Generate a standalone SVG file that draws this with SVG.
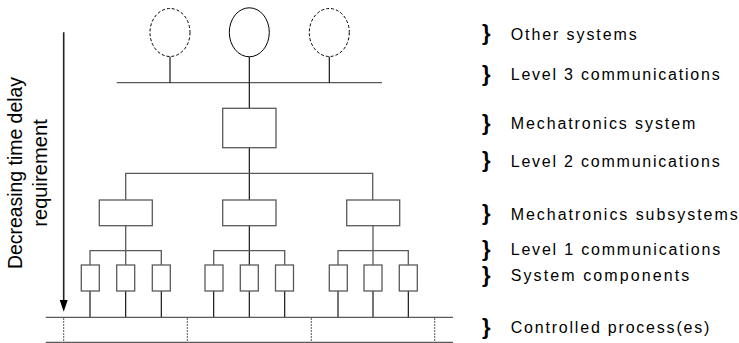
<svg xmlns="http://www.w3.org/2000/svg" width="739" height="343" viewBox="0 0 739 343">
<defs>
<style>
.bg{fill:#fff}
.g{stroke:#5a5a5a;stroke-width:1.3;fill:none}
.k{stroke:#000;stroke-width:1.1;fill:none}
.box{stroke:#5a5a5a;stroke-width:1.3;fill:#fff}
.ell{stroke:#000;stroke-width:1;fill:#fff}
.dash{stroke-dasharray:3,2}
.dot{stroke:#5a5a5a;stroke-width:1;stroke-dasharray:2,1;fill:none}
.lbl{font-family:"Liberation Sans",Arial,Helvetica,sans-serif;font-size:16px;fill:#000}
.br{font-family:"Liberation Sans",Arial,Helvetica,sans-serif;font-size:22px;font-weight:bold;fill:#000}
.side{font-family:"Liberation Sans",Arial,Helvetica,sans-serif;font-size:19.5px;fill:#000;text-anchor:middle}
</style>
</defs>
<rect class="bg" x="0" y="0" width="739" height="343"/>

<g id="connectors">
<line class="g" x1="116.7" y1="82.7" x2="382" y2="82.7"/>
<line class="k" x1="170" y1="56.5" x2="170" y2="82.7"/>
<line class="k" x1="329.3" y1="56.5" x2="329.3" y2="82.7"/>
<line class="k" x1="249.3" y1="56.5" x2="249.3" y2="108.3"/>
<line class="k" x1="249.3" y1="147.7" x2="249.3" y2="200"/>
<polyline class="g" points="125.7,200 125.7,173.3 372.7,173.3 372.7,200"/>
<line class="g" x1="125.7" y1="225.7" x2="125.7" y2="265"/>
<line class="k" x1="249.3" y1="225.7" x2="249.3" y2="265"/>
<line class="g" x1="373" y1="225.7" x2="373" y2="265"/>
<polyline class="g" points="90,265 90,250.7 161.3,250.7 161.3,265"/>
<polyline class="g" points="213.7,265 213.7,250.7 284.7,250.7 284.7,265"/>
<polyline class="g" points="338,265 338,250.7 408.3,250.7 408.3,265"/>
<line class="k" x1="90" y1="291" x2="90" y2="317.3"/>
<line class="k" x1="125.7" y1="291" x2="125.7" y2="317.3"/>
<line class="k" x1="161.3" y1="291" x2="161.3" y2="317.3"/>
<line class="k" x1="213.7" y1="291" x2="213.7" y2="317.3"/>
<line class="k" x1="249.3" y1="291" x2="249.3" y2="317.3"/>
<line class="k" x1="284.7" y1="291" x2="284.7" y2="317.3"/>
<line class="k" x1="338" y1="291" x2="338" y2="317.3"/>
<line class="k" x1="373" y1="291" x2="373" y2="317.3"/>
<line class="k" x1="408.3" y1="291" x2="408.3" y2="317.3"/>
</g>

<g id="other-system-left"><ellipse class="ell dash" cx="170" cy="32.5" rx="20" ry="24"/></g>
<g id="main-system"><ellipse class="ell" cx="249.3" cy="32.3" rx="20" ry="24.5"/></g>
<g id="other-system-right"><ellipse class="ell dash" cx="329.3" cy="32.5" rx="20" ry="24"/></g>

<g id="mechatronics-system"><rect class="box" x="222.7" y="108.3" width="53.3" height="39.4"/></g>

<g id="subsystem-1"><rect class="box" x="99.3" y="200" width="53" height="25.7"/></g>
<g id="subsystem-2"><rect class="box" x="222.7" y="200" width="53.3" height="25.7"/></g>
<g id="subsystem-3"><rect class="box" x="346.7" y="200" width="53" height="25.7"/></g>

<g id="component-1-1"><rect class="box" x="81.3" y="265" width="18" height="26"/></g>
<g id="component-1-2"><rect class="box" x="116.7" y="265" width="18" height="26"/></g>
<g id="component-1-3"><rect class="box" x="152.3" y="265" width="18" height="26"/></g>
<g id="component-2-1"><rect class="box" x="205" y="265" width="18" height="26"/></g>
<g id="component-2-2"><rect class="box" x="240.3" y="265" width="18" height="26"/></g>
<g id="component-2-3"><rect class="box" x="275.5" y="265" width="18" height="26"/></g>
<g id="component-3-1"><rect class="box" x="329.3" y="265" width="18" height="26"/></g>
<g id="component-3-2"><rect class="box" x="364" y="265" width="18" height="26"/></g>
<g id="component-3-3"><rect class="box" x="399.3" y="265" width="18" height="26"/></g>

<g id="process">
<line class="g" x1="45.7" y1="317.3" x2="453" y2="317.3"/>
<line class="g" x1="45.7" y1="342.5" x2="453" y2="342.5"/>
<line class="dot" x1="63.7" y1="318" x2="63.7" y2="342"/>
<line class="dot" x1="187.3" y1="318" x2="187.3" y2="342"/>
<line class="dot" x1="311.3" y1="318" x2="311.3" y2="342"/>
<line class="dot" x1="434.7" y1="318" x2="434.7" y2="342"/>
</g>

<g id="time-axis">
<line x1="63.7" y1="32.3" x2="63.7" y2="302" stroke="#222" stroke-width="1.6"/>
<polygon points="59.7,300 67.7,300 63.7,311.7" fill="#000"/>
<text class="side" transform="translate(22,173) rotate(-90)" textLength="192" lengthAdjust="spacingAndGlyphs">Decreasing time delay</text>
<text class="side" transform="translate(47,173) rotate(-90)" textLength="107.5" lengthAdjust="spacingAndGlyphs">requirement</text>
</g>

<g id="labels">
<text class="br" x="482" y="40">}</text>
<text class="lbl" x="510.7" y="39.5" textLength="126" lengthAdjust="spacing">Other systems</text>
<text class="br" x="482" y="80.5">}</text>
<text class="lbl" x="510.7" y="80" textLength="209" lengthAdjust="spacing">Level 3 communications</text>
<text class="br" x="482" y="129.5">}</text>
<text class="lbl" x="510.7" y="129" textLength="184.6" lengthAdjust="spacing">Mechatronics system</text>
<text class="br" x="482" y="167">}</text>
<text class="lbl" x="510.7" y="166.5" textLength="209" lengthAdjust="spacing">Level 2 communications</text>
<text class="br" x="482" y="220">}</text>
<text class="lbl" x="510.7" y="219.5" textLength="227" lengthAdjust="spacing">Mechatronics subsystems</text>
<text class="br" x="482" y="255.5">}</text>
<text class="lbl" x="510.7" y="255" textLength="209.5" lengthAdjust="spacing">Level 1 communications</text>
<text class="br" x="482" y="281.5">}</text>
<text class="lbl" x="510.7" y="281" textLength="178.6" lengthAdjust="spacing">System components</text>
<text class="br" x="482" y="333.5">}</text>
<text class="lbl" x="510.7" y="333" textLength="198.6" lengthAdjust="spacing">Controlled process(es)</text>
</g>
</svg>
